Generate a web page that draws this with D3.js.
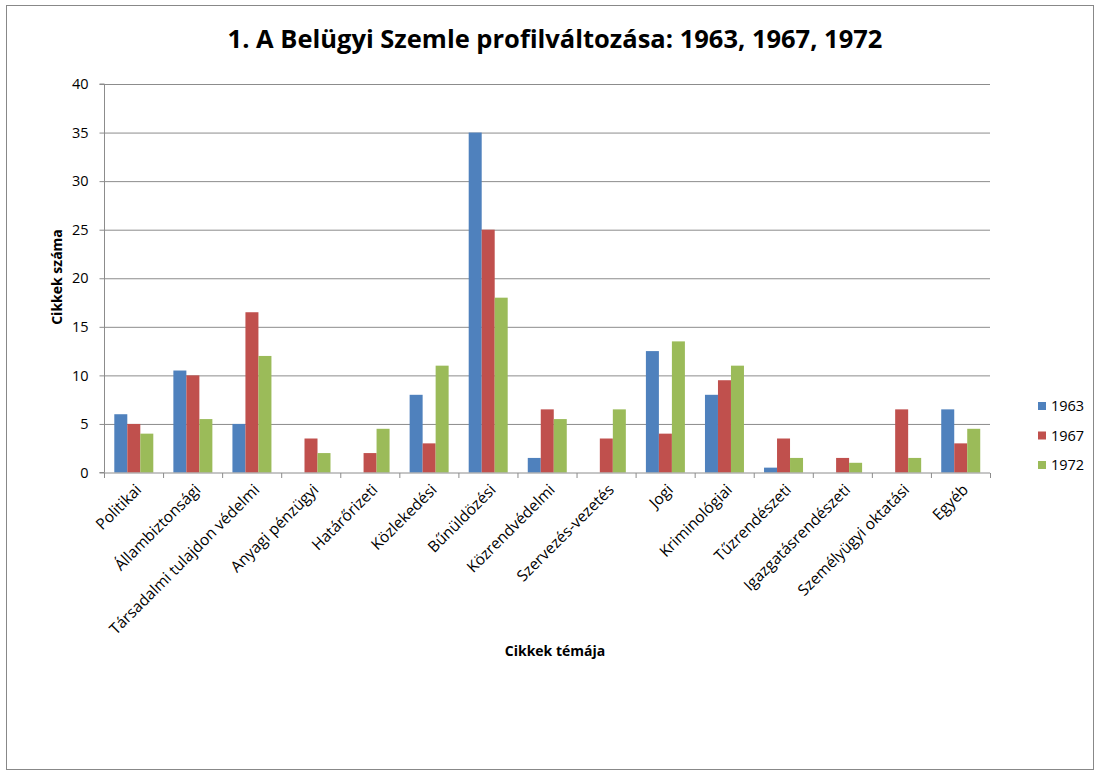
<!DOCTYPE html>
<html><head><meta charset="utf-8">
<script src="https://cdn.jsdelivr.net/npm/d3@7/dist/d3.min.js"></script>
<style>body{margin:0;background:#fff}svg{display:block}</style>
</head><body>
<svg id="c" width="1099" height="776"></svg>
<script>
const categories = ["Politikai","Állambiztonsági","Társadalmi tulajdon védelmi","Anyagi pénzügyi","Határőrizeti","Közlekedési","Bűnüldözési","Közrendvédelmi","Szervezés-vezetés","Jogi","Kriminológiai","Tűzrendészeti","Igazgatásrendészeti","Személyügyi oktatási","Egyéb"];
const seriesNames = ["1963","1967","1972"];
const v1963 = [6,10.5,5,0,0,8,35,1.5,0,12.5,8,0.5,0,0,6.5];
const v1967 = [5,10,16.5,3.5,2,3,25,6.5,3.5,4,9.5,3.5,1.5,6.5,3];
const v1972 = [4,5.5,12,2,4.5,11,18,5.5,6.5,13.5,11,1.5,1,1.5,4.5];
const yTicks = [0,5,10,15,20,25,30,35,40];
const colors = ["#4F81BD","#C0504D","#9BBB59"];
const series = [v1963, v1967, v1972];

const svg = d3.select("#c");
const font = "'Open Sans', sans-serif";
svg.append("rect").attr("x",6.5).attr("y",5.5).attr("width",1087).attr("height",764)
  .attr("fill","#fff").attr("stroke","#888").attr("stroke-width",1);

const L=104, R=990, T=84, B=472.5;
const x = d3.scaleBand().domain(categories).range([L,R]).paddingInner(0).paddingOuter(0);
const y = d3.scaleLinear().domain([0,40]).range([B,T]);

// gridlines
svg.append("g").selectAll("line").data(yTicks.slice(1)).join("line")
  .attr("x1",L).attr("x2",R).attr("y1",d=>y(d)+0.5).attr("y2",d=>y(d)+0.5)
  .attr("stroke","#8c8c8c").attr("stroke-width",1);

// bars
const inner = d3.scaleBand().domain(seriesNames).range([10.3, 10.3+39]);
series.forEach((vals,si)=>{
  svg.append("g").selectAll("rect").data(vals).join("rect")
    .attr("x",(d,i)=>x(categories[i])+inner(seriesNames[si]))
    .attr("width",inner.bandwidth())
    .attr("y",d=>y(d)).attr("height",d=>B-y(d))
    .attr("fill",colors[si]);
});

// y axis
const yAxis = d3.axisLeft(y).tickValues(yTicks).tickSize(5).tickPadding(11);
const gy = svg.append("g").attr("transform",`translate(${L+0.5},0)`).call(yAxis);
gy.selectAll("text").attr("font-family",font).attr("font-size",14.5).attr("fill","#000");
gy.selectAll("line").attr("stroke","#8c8c8c");
gy.select(".domain").attr("stroke","#8c8c8c").attr("d",`M-5,${T}H0V${B}H-5`);

// x axis
const gx = svg.append("g").attr("transform",`translate(0,${B+0.5})`);
gx.append("line").attr("x1",L).attr("x2",R).attr("stroke","#8c8c8c");
const bounds = categories.map(c=>x(c)).concat([R]);
gx.selectAll("line.t").data(bounds).join("line").attr("class","t")
  .attr("x1",d=>d+0.5).attr("x2",d=>d+0.5).attr("y1",0).attr("y2",5).attr("stroke","#8c8c8c");
gx.selectAll("text").data(categories).join("text")
  .attr("transform",d=>`translate(${x(d)+x.bandwidth()/2+5},14) rotate(-45)`)
  .attr("text-anchor","end").attr("dy","0.35em")
  .attr("font-family",font).attr("font-size",15.5).text(d=>d);

// titles
svg.append("text").attr("x",555).attr("y",48).attr("text-anchor","middle")
  .attr("font-family",font).attr("font-weight","bold").attr("font-size",25.5).text("1. A Belügyi Szemle profilváltozása: 1963, 1967, 1972");
svg.append("text").attr("x",555).attr("y",656).attr("text-anchor","middle")
  .attr("font-family",font).attr("font-weight","bold").attr("font-size",14).text("Cikkek témája");
svg.append("text").attr("transform","translate(62,277) rotate(-90)").attr("text-anchor","middle")
  .attr("font-family",font).attr("font-weight","bold").attr("font-size",14).text("Cikkek száma");

// legend
const lg = svg.append("g").attr("transform","translate(1038,402)");
seriesNames.forEach((s,i)=>{
  lg.append("rect").attr("x",0).attr("y",i*29.5).attr("width",8).attr("height",8).attr("fill",colors[i]);
  lg.append("text").attr("x",13).attr("y",i*29.5+4).attr("dy","0.35em")
    .attr("font-family",font).attr("font-size",14.5).text(s);
});
</script>
</body></html>
